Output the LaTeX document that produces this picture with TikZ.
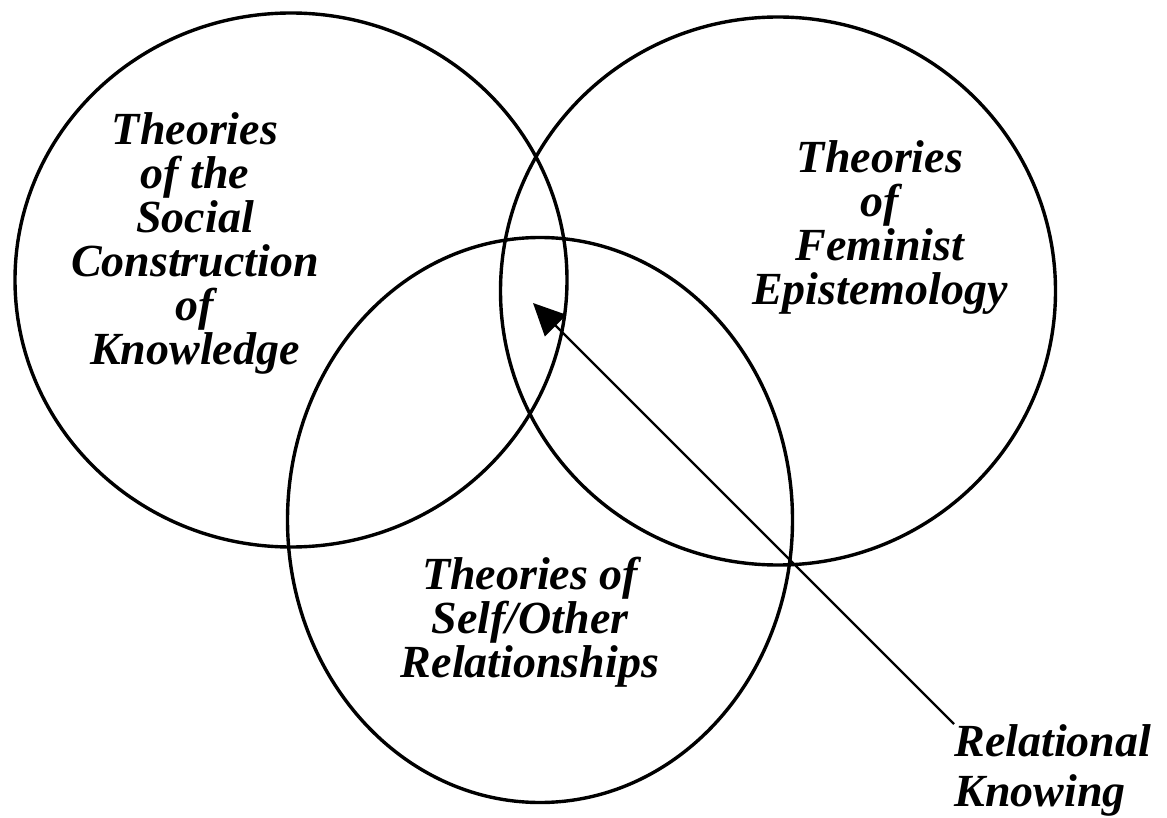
\documentclass[tikz,border=0pt]{standalone}
\usepackage{fontspec}
\setmainfont{Liberation Serif}
\usetikzlibrary{shapes.geometric,arrows.meta}
\begin{document}
\begin{tikzpicture}[x=0.5pt,y=-0.5pt,
  ring/.style={draw, ellipse, line width=1.7pt, inner sep=0pt},
  lbl/.style={font=\fontsize{23}{22}\selectfont\bfseries\itshape, align=center, inner sep=0pt},
  ptr/.style={line width=1.2pt, -{Triangle[length=16pt,width=15pt]}}]
\useasboundingbox (0,0) rectangle (1167,818);
\node[ring, minimum width=276pt, minimum height=267pt] (social) at (291,280) {};
\node[ring, minimum width=277.5pt, minimum height=274pt] (feminist) at (778,291) {};
\node[ring, minimum width=252.5pt, minimum height=282.5pt] (selfother) at (540,520) {};
\node[lbl] (tsocial) at (195,243) {Theories\\of the\\Social\\Construction\\of\\Knowledge};
\node[lbl] (tfem) at (880,228) {Theories\\of\\Feminist\\Epistemology};
\node[lbl] (tself) at (530,622) {Theories of\\Self/Other\\Relationships};
\node[lbl, align=left, anchor=north west] (rk) at (954,724) {Relational\\[3pt]Knowing};
\coordinate (tip) at (533,303);
\draw[ptr] (rk.north west) -- (tip);
\end{tikzpicture}
\end{document}
